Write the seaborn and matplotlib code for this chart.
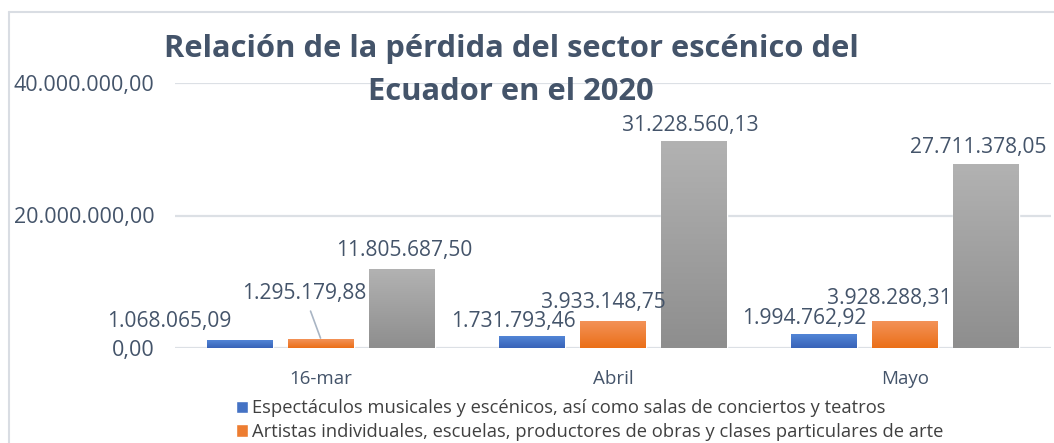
import numpy as np
import pandas as pd
import seaborn as sns
import matplotlib.pyplot as plt
from matplotlib.colors import LinearSegmentedColormap
from matplotlib.patches import Patch
from matplotlib.lines import Line2D
from matplotlib.ticker import FuncFormatter

meses = ["16-mar", "Abril", "Mayo"]
series = [
    "Espectáculos musicales y escénicos, así como salas de conciertos y teatros",
    "Artistas individuales, escuelas, productores de obras y clases particulares de arte",
    "Total",
]
espectaculos = [1068065.09, 1731793.46, 1994762.92]
artistas = [1295179.88, 3933148.75, 3928288.31]
total = [11805687.50, 31228560.13, 27711378.05]
yticks = [0, 20000000, 40000000]

df = pd.DataFrame({
    "mes": meses * 3,
    "serie": [series[0]] * 3 + [series[1]] * 3 + [series[2]] * 3,
    "valor": espectaculos + artistas + total,
})

colores = ["#4472C4", "#ED7D31", "#A5A5A5"]
gradientes = [("#5285D6", "#3863B8"), ("#F39258", "#EB6F18"), ("#B2B2B2", "#8E8E8E")]
texto = "#44546A"

# label offsets in pixels from the top centre of each bar (per serie, per mes)
offsets = [
    [(-71, 19), (-19, 15), (-20, 16)],
    [(-17, 46), (-10, 19), (-16, 23)],
    [(2, 19), (-3, 16), (-8, 17)],
]


def es_num(v):
    s = f"{v:,.2f}"
    return s.replace(",", "X").replace(".", ",").replace("X", ".")


sns.set_theme(style="white")
plt.rcParams["font.family"] = ["Open Sans", "DejaVu Sans"]

W, H = 1054, 443
fig = plt.figure(figsize=(W / 100, H / 100), dpi=100)
ax = fig.add_axes([175 / W, 95 / H, 876 / W, 265 / H])

sns.barplot(data=df, x="mes", y="valor", hue="serie", order=meses, hue_order=series,
            palette=colores, saturation=1, width=0.83, gap=0.185, legend=False, ax=ax)

ax.set_ylim(0, 40000000)
ax.set_xlim(-0.5, 2.5)
ax.set_yticks(yticks)
ax.yaxis.set_major_formatter(FuncFormatter(lambda v, p: es_num(v)))
ax.grid(axis="y", color="#DCE0E5", linewidth=1.6)
ax.grid(axis="x", visible=False)
ax.set_axisbelow(True)
for s in ax.spines.values():
    s.set_visible(False)
ax.tick_params(axis="y", length=0, pad=15, labelsize=15.5, labelcolor=texto)
ax.tick_params(axis="x", length=0, pad=16, labelsize=13.5, labelcolor=texto)
ax.set_xlabel("")
ax.set_ylabel("")

# gradient fill and data labels
for i, cont in enumerate(ax.containers):
    cmap = LinearSegmentedColormap.from_list("g%d" % i, gradientes[i])
    for j, bar in enumerate(cont):
        x0 = bar.get_x()
        w = bar.get_width()
        h = bar.get_height()
        grad = np.linspace(0, 1, 100).reshape(-1, 1)
        ax.imshow(grad, cmap=cmap, extent=(x0, x0 + w, 0, h), aspect="auto", zorder=2)
        dx, dy = offsets[i][j]
        arrow = None
        if i == 1 and j == 0:
            arrow = dict(arrowstyle="-", color="#A9B5C4", lw=1.2, shrinkA=3, shrinkB=1)
        ax.annotate(es_num(h), xy=(x0 + w / 2, h), xytext=(dx, dy), textcoords="offset pixels",
                    ha="center", va="center", fontsize=15.1, color=texto, zorder=5,
                    arrowprops=arrow)

ax.set_xlim(-0.5, 2.5)
ax.set_ylim(0, 40000000)

fig.text(511 / W, 1 - 57 / H, "Relación de la pérdida del sector escénico del",
         ha="center", va="baseline", fontsize=22.2, fontweight="bold", color=texto)
fig.text(511 / W, 1 - 100 / H, "Ecuador en el 2020",
         ha="center", va="baseline", fontsize=22.2, fontweight="bold", color=texto)

handles = [Patch(facecolor=colores[0]), Patch(facecolor=colores[1])]
fig.legend(handles, series[:2], loc="upper left", bbox_to_anchor=(227 / W, 1 - 390 / H),
           frameon=False, fontsize=13.2, handlelength=0.65, handleheight=0.65,
           handletextpad=0.2, labelspacing=0.32, borderpad=0, labelcolor="#404040")

# chart border (cropped at right and bottom)
fig.add_artist(Line2D([9 / W, 9 / W], [0, 1 - 12 / H], transform=fig.transFigure,
                      color="#D9DDE3", lw=1.5))
fig.add_artist(Line2D([9 / W, 1], [1 - 12 / H, 1 - 12 / H], transform=fig.transFigure,
                      color="#D9DDE3", lw=1.5))

fig.savefig("out.png", dpi=100)
